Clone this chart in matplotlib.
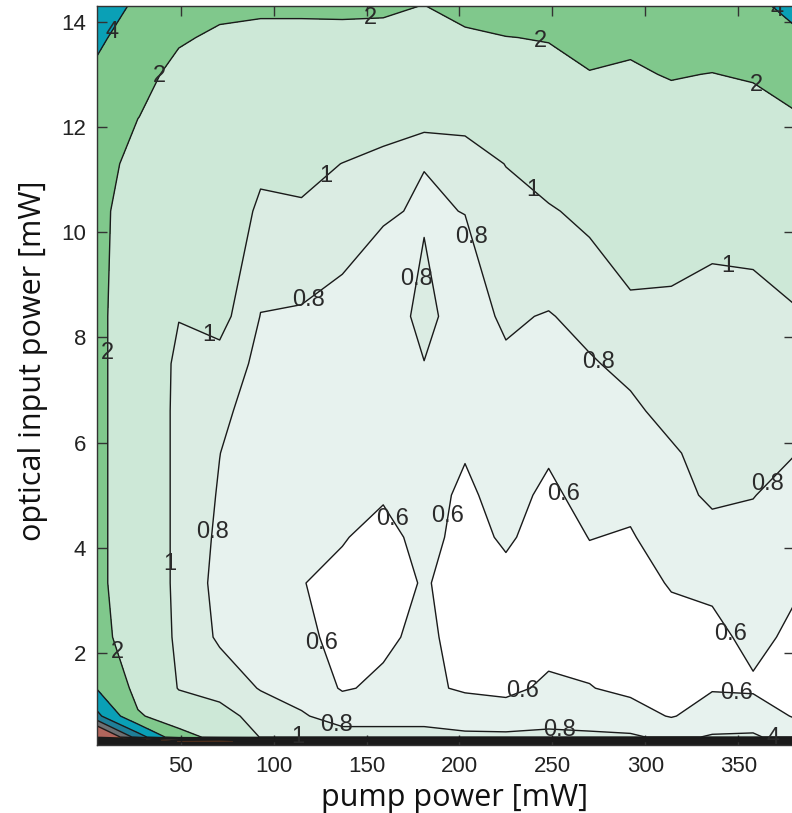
import numpy as np
import matplotlib
matplotlib.use("Agg")
import matplotlib.pyplot as plt
from matplotlib import font_manager
from matplotlib.colors import ListedColormap, BoundaryNorm

# pump power grid [mW] and optical input power grid [mW]
pump_power = [5, 27, 49, 71, 93, 115, 137, 159, 181, 203, 225, 248, 270, 292, 314, 336, 358, 380]
input_power = [0.25, 0.4, 0.8, 1.33, 2.3, 3.33, 4.2, 5.0, 5.8, 6.6, 7.5, 8.4,
               10.4, 11.3, 12.2, 13.0, 13.7, 14.3]

# measured values, one row per input power, one column per pump power
measured = [
    [60, 50, 30, 30, 35, 35, 35, 35, 35, 35, 35, 35, 35, 35, 35, 35, 35, 35],
    [14, 7, 2.5, 1.6, 0.98, 0.9, 0.88, 0.86, 0.86, 0.84, 0.84, 0.85, 0.84, 0.83, 0.75, 0.82, 0.83, 0.7],
    [6.5, 2.15, 1.3, 1.1, 0.9, 0.82, 0.72, 0.74, 0.74, 0.7, 0.68, 0.72, 0.7, 0.66, 0.59, 0.67, 0.68, 0.59],
    [3.9, 1.5, 0.98, 0.9, 0.79, 0.72, 0.585, 0.63, 0.63, 0.58, 0.56, 0.63, 0.605, 0.57, 0.55, 0.59, 0.58, 0.56],
    [2.4, 1.35, 0.93, 0.775, 0.72, 0.64, 0.55, 0.57, 0.64, 0.53, 0.52, 0.54, 0.55, 0.53, 0.55, 0.56, 0.64, 0.57],
    [2.25, 1.3, 0.92, 0.75, 0.68, 0.605, 0.56, 0.52, 0.615, 0.53, 0.56, 0.52, 0.56, 0.55, 0.61, 0.63, 0.69, 0.62],
    [2.25, 1.3, 0.92, 0.77, 0.67, 0.62, 0.61, 0.55, 0.65, 0.55, 0.62, 0.54, 0.603, 0.59, 0.66, 0.72, 0.75, 0.68],
    [2.25, 1.3, 0.92, 0.787, 0.68, 0.64, 0.63, 0.615, 0.66, 0.57, 0.66, 0.565, 0.66, 0.63, 0.72, 0.84, 0.805, 0.74],
    [2.25, 1.3, 0.92, 0.802, 0.7, 0.66, 0.65, 0.64, 0.69, 0.61, 0.7, 0.62, 0.7, 0.7, 0.78, 0.86, 0.85, 0.805],
    [2.25, 1.3, 0.92, 0.84, 0.72, 0.69, 0.68, 0.67, 0.73, 0.66, 0.74, 0.69, 0.74, 0.77, 0.85, 0.89, 0.88, 0.86],
    [2.25, 1.3, 0.93, 0.92, 0.75, 0.73, 0.72, 0.7, 0.798, 0.71, 0.78, 0.74, 0.785, 0.84, 0.9, 0.93, 0.92, 0.92],
    [2.25, 1.3, 1.01, 1.08, 0.795, 0.78, 0.76, 0.74, 0.83, 0.745, 0.82, 0.79, 0.85, 0.95, 0.96, 0.96, 0.96, 0.98],
    [2.3, 1.4, 1.2, 1.3, 0.93, 0.96, 0.86, 0.81, 0.79, 0.802, 0.93, 0.98, 1.05, 1.15, 1.1, 1.04, 1.05, 1.15],
    [2.5, 1.6, 1.35, 1.4, 1.08, 1.1, 0.995, 0.93, 0.802, 0.9, 1.005, 1.1, 1.2, 1.45, 1.4, 1.3, 1.25, 1.4],
    [2.8, 2.02, 1.5, 1.55, 1.3, 1.3, 1.25, 1.12, 1.1, 1.07, 1.25, 1.35, 1.5, 1.7, 1.7, 1.6, 1.6, 1.9],
    [3.6, 2.3, 1.75, 1.7, 1.55, 1.55, 1.5, 1.4, 1.35, 1.35, 1.55, 1.7, 1.95, 1.9, 2.05, 1.98, 2.1, 2.5],
    [4.4, 2.9, 2.1, 1.86, 1.85, 1.85, 1.8, 1.75, 1.65, 1.8, 1.98, 2.05, 2.4, 2.15, 2.5, 2.4, 2.8, 3.6],
    [5.5, 3.5, 2.8, 2.2, 2.1, 2.1, 2.15, 2.15, 1.98, 2.4, 2.5, 2.7, 3.0, 2.8, 3.2, 3.2, 3.5, 4.6],
]

fill_levels = [0, 0.6, 0.8, 1, 2, 4, 6, 8, 10, 15, 20, 1000]
fill_colors = ["#ffffff", "#e7f2ee", "#dbece3", "#cde8d7", "#80c88c", "#0aa0b6",
               "#1f7f98", "#6c7073", "#b0655c", "#e46c24", "#1a1a1a"]

# label positions for each labelled level
label_spots = {
    0.6: [(162, 4.5), (195, 4.6), (255, 5.0), (122, 2.15), (345, 2.34), (235, 1.2), (349, 1.14)],
    0.8: [(205, 9.9), (178, 9.1), (119, 8.7), (274, 7.5), (366, 5.2), (66, 4.3), (134, 0.62),
          (254, 0.5)],
    1: [(130, 11.0), (242, 10.9), (344, 9.3), (62, 7.8), (40, 3.7), (113, 0.45)],
    2: [(37, 13.0), (152, 14.0), (243, 13.5), (360, 12.8), (8, 7.7), (15, 2.0)],
    4: [(9, 13.9), (369, 14.15), (369, 0.38)],
}


def pick_font(names):
    have = {f.name for f in font_manager.fontManager.ttflist}
    for n in names:
        if n in have:
            return n
    return "DejaVu Sans"


num_font = pick_font(["Liberation Sans Narrow", "Liberation Sans", "DejaVu Sans"])
label_font = pick_font(["Open Sans", "Noto Sans", "DejaVu Sans"])

X, Y = np.meshgrid(pump_power, input_power)
Z = np.array(measured)

fig = plt.figure(figsize=(7.92, 8.13), dpi=100)
ax = fig.add_axes([97 / 792, 68 / 813, 697 / 792, 739 / 813])

cmap = ListedColormap(fill_colors)
norm = BoundaryNorm(fill_levels, cmap.N)
ax.contourf(X, Y, Z, levels=fill_levels, cmap=cmap, norm=norm)

# unlabelled high levels near the bottom edge
ax.contour(X, Y, Z, levels=[6, 8, 10, 15, 20], colors="#1a1a1a", linewidths=1.0)

for lev, spots in label_spots.items():
    cs = ax.contour(X, Y, Z, levels=[lev], colors="#1a1a1a", linewidths=1.0)
    texts = ax.clabel(cs, [lev], manual=spots, inline=False, fmt="%g",
                      fontsize=17, colors="#2a2a2a")
    for t in texts:
        t.set_rotation(0)
        t.set_fontfamily(num_font)

ax.set_xlim(5, 380)
ax.set_ylim(0.25, 14.3)
ax.set_xticks([50, 100, 150, 200, 250, 300, 350])
ax.set_yticks([2, 4, 6, 8, 10, 12, 14])
ax.tick_params(direction="in", length=7, width=1.0, color="#333333",
               top=True, right=True, labelsize=16, labelcolor="#222222", pad=8)
for lab in ax.get_xticklabels() + ax.get_yticklabels():
    lab.set_fontfamily(num_font)
for sp in ax.spines.values():
    sp.set_color("#333333")
    sp.set_linewidth(1.0)

ax.set_xlabel("pump power [mW]", fontsize=22, fontfamily=label_font, color="#111111")
ax.set_ylabel("optical input power [mW]", fontsize=22, fontfamily=label_font, color="#111111")
ax.xaxis.set_label_coords(0.513, -0.051)
ax.yaxis.set_label_coords(-0.07, 0.52)

fig.savefig("out.png", dpi=100)
